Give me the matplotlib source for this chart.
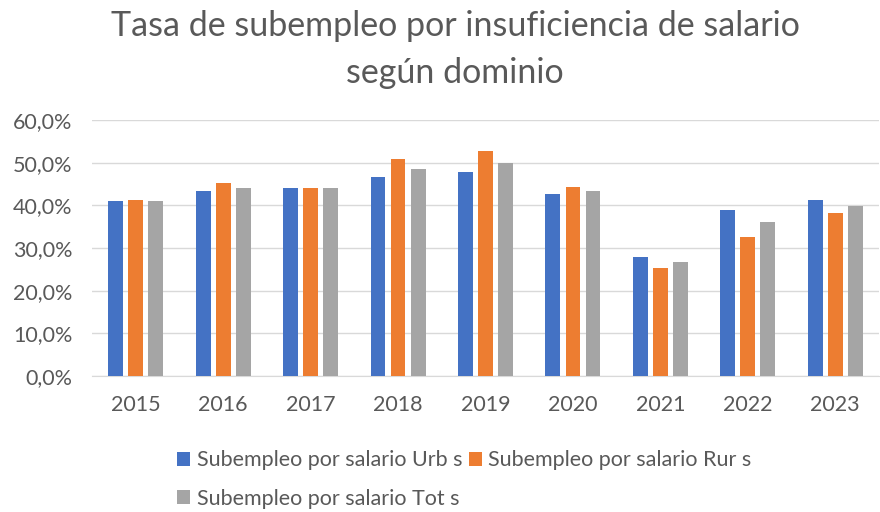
import numpy as np
import matplotlib.pyplot as plt

years = ["2015", "2016", "2017", "2018", "2019", "2020", "2021", "2022", "2023"]
urbano = [40.9, 43.4, 44.1, 46.6, 47.7, 42.6, 27.8, 38.8, 41.3]
rural = [41.3, 45.2, 44.1, 50.9, 52.7, 44.4, 25.3, 32.5, 38.1]
total = [40.9, 44.1, 44.1, 48.4, 49.9, 43.4, 26.7, 36.2, 39.9]

labels = ["Subempleo por salario Urb s", "Subempleo por salario Rur s",
          "Subempleo por salario Tot s"]
colors = ["#4472C4", "#ED7D31", "#A5A5A5"]
text_gray = "#595959"

plt.rcParams['font.family'] = ['Lato', 'DejaVu Sans']

fig = plt.figure(figsize=(8.8, 5.12), dpi=100)
ax = fig.add_axes([92 / 880, 1 - 376 / 512, (879 - 92) / 880, (376 - 120) / 512])

x = np.arange(len(years))
w = 0.17
off = 0.229
bars = []
for i, (vals, c) in enumerate(zip([urbano, rural, total], colors)):
    b = ax.bar(x + (i - 1) * off, vals, width=w, color=c, zorder=3)
    bars.append(b)

ax.set_xlim(-0.5, len(years) - 0.5)
ax.set_ylim(0, 60)
ax.set_yticks(np.arange(0, 61, 10))
ax.set_yticklabels([f"{v:.1f}%".replace(".", ",") for v in np.arange(0, 61, 10)])
ax.set_xticks(x)
ax.set_xticklabels(years)
ax.grid(axis='y', color="#D9D9D9", linewidth=1, zorder=0)
for s in ["top", "right", "left"]:
    ax.spines[s].set_visible(False)
ax.spines["bottom"].set_color("#D9D9D9")
ax.tick_params(axis='both', length=0, colors=text_gray, labelsize=15.5)
ax.tick_params(axis='x', pad=14)
ax.tick_params(axis='y', pad=14)

fig.text(0.517, 0.98, "Tasa de subempleo por insuficiencia de salario\nsegún dominio",
         ha='center', va='top', fontsize=24.5, color=text_gray, linespacing=1.55)

fig.legend([bars[0], bars[2], bars[1]], [labels[0], labels[2], labels[1]],
           ncol=2, loc='upper left', bbox_to_anchor=(158 / 880, 1 - 431 / 512),
           frameon=False, fontsize=15.5, labelcolor=text_gray,
           handlelength=0.6, handleheight=0.6, handletextpad=0.3,
           columnspacing=0.3, labelspacing=0.85)

fig.savefig("out.png", dpi=100)
